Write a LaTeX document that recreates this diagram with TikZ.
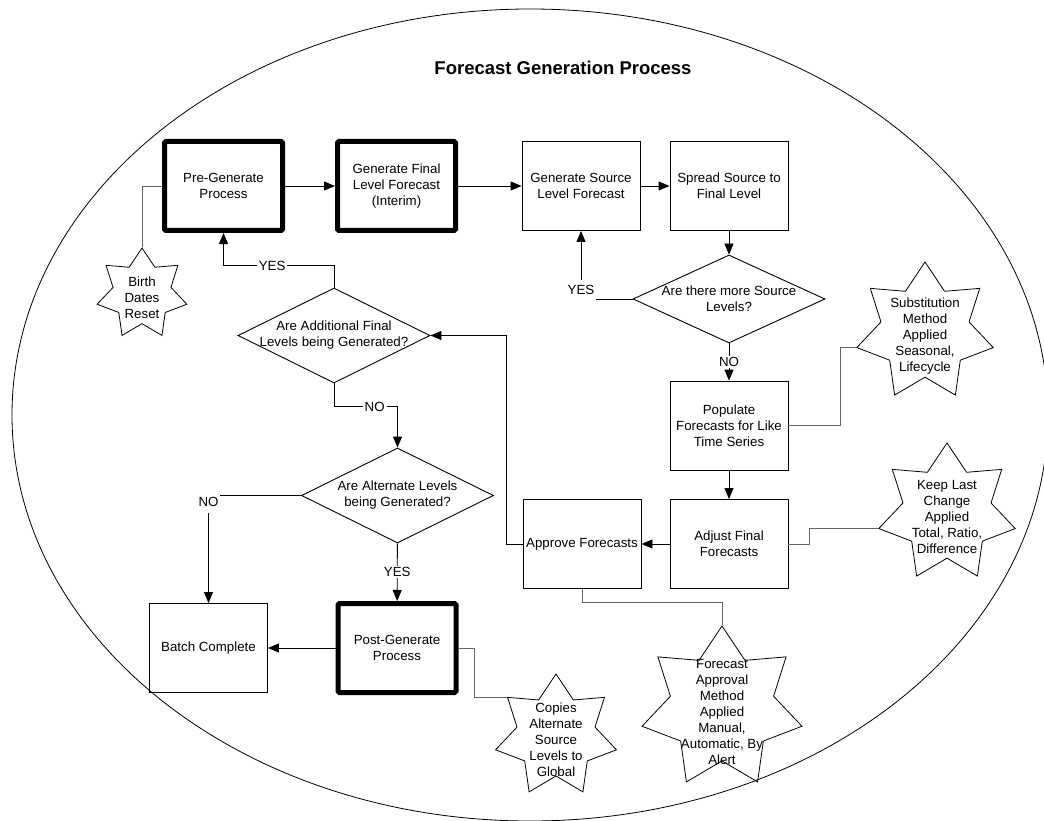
\documentclass[tikz,border=0pt]{standalone}
\usepackage{fontspec}
\setmainfont{Liberation Sans}
\usetikzlibrary{arrows.meta,shapes.geometric,positioning}
\tikzstyle{taskbox}=[draw,line width=0.9pt,minimum width=118pt,minimum height=89pt,align=center,inner sep=2pt]
\tikzstyle{heavybox}=[taskbox,line width=5pt,rounded corners=1.5pt]
\tikzstyle{decision}=[diamond,draw,line width=0.9pt,inner sep=0pt,minimum width=192pt,minimum height=95pt]
\tikzstyle{note}=[star,star points=7,star point ratio=1.55,draw,line width=0.8pt,inner sep=0pt]
\tikzstyle{inside}=[align=center,inner sep=0pt]
\tikzstyle{flow}=[draw,line width=0.9pt,-{Triangle[length=11pt,width=9pt]}]
\tikzstyle{tie}=[draw,line width=0.8pt,black!60]
\tikzstyle{answer}=[fill=white,inner xsep=2pt,inner ysep=1.5pt]

\begin{document}
\begin{tikzpicture}[x=1pt,y=-1pt,font=\fontsize{13.3}{16}\selectfont]
\useasboundingbox (0,0) rectangle (1044,821);

% Outline and title
\draw[line width=0.8pt] (530,415) ellipse [x radius=518, y radius=406];
\node[font=\bfseries\fontsize{18.5}{22}\selectfont] (title) at (563,68) {Forecast Generation Process};

% First the process steps
\node[heavybox] (pregen) at (223.5,186) {Pre-Generate\\Process};
\node[heavybox] (genfin) at (396.5,186) {Generate Final\\Level Forecast\\(Interim)};
\node[heavybox] (post) at (397,648) {Post-Generate\\Process};
\foreach \pos/\name/\txt in {{(581,186)/gensrc/Generate Source\\Level Forecast},
  {(729,186)/spread/Spread Source to\\Final Level},
  {(729,425.5)/populate/Populate\\Forecasts for Like\\Time Series},
  {(729,544)/adjust/Adjust Final\\Forecasts},
  {(582,544)/approve/Approve Forecasts},
  {(208.5,648)/batch/Batch Complete}}
\node[taskbox] (\name) at \pos {\txt};

% Then the questions
\node[decision,minimum height=88pt,label={[inside]center:{Are there more Source\\Levels?}}] (moresrc) at (729,299) {};
\node[decision,label={[inside]center:{Are Additional Final\\Levels being Generated?}}] (addfin) at (334,335.5) {};
\node[decision,label={[inside]center:{Are Alternate Levels\\being Generated?}}] (altlev) at (397.5,495.5) {};

% Notes on the steps
\foreach \pos/\name/\size/\txt in {{(142,294)/birth/92/Birth\\Dates\\Reset},
  {(925,332)/subst/140/Substitution\\Method\\Applied\\Seasonal,\\Lifecycle},
  {(947,513)/keep/140/Keep Last\\Change\\Applied\\Total, Ratio,\\Difference},
  {(722,708)/approval/164/Forecast\\Approval\\Method\\Applied\\Manual,\\Automatic, By\\Alert},
  {(556,736)/copies/124/Copies\\Alternate\\Source\\Levels to\\Global}}
\node[note,minimum size=\size pt,label={[inside,yshift=-4pt]center:{\txt}}] (\name) at \pos {};

% Connect the steps
\foreach \source/\dest in {pregen/genfin, genfin/gensrc, gensrc/spread, spread/moresrc, populate/adjust, adjust/approve, post/batch}
\path[flow] (\source) -- (\dest);
\path[flow] (moresrc.west) -| node[answer,pos=0.5,yshift=9pt,minimum height=20pt]{YES} (gensrc.south);
\path[flow] (moresrc) -- node[answer]{NO} (populate);
\path[flow] (approve.west) -- ++(-16,0) |- (addfin.east);
\path[flow] (addfin.north) -- ++(0,-22) -| node[answer,pos=0.28]{YES} (pregen.south);
\path[flow] (addfin.south) -- ++(0,23) -| node[answer,pos=0.32]{NO} (altlev.north);
\path[flow] (altlev.west) -| node[answer,pos=0.5,yshift=-6pt,minimum height=22pt]{NO} (batch.north);
\path[flow] (altlev) -- node[answer]{YES} (post);

% Tie the notes to their steps
\path[tie] (birth.outer point 1) |- (pregen.west);
\path[tie] (subst.outer point 3) -- ++(-16,0) |- (populate.east);
\path[tie] (keep.outer point 3) -- ++(-69,0) |- (adjust.east);
\path[tie] (approval.outer point 1) -- ++(0,-23) -| (approve.south);
\path[tie] (post.east) -- ++(16,0) |- (copies.outer point 2);

\end{tikzpicture}
\end{document}
